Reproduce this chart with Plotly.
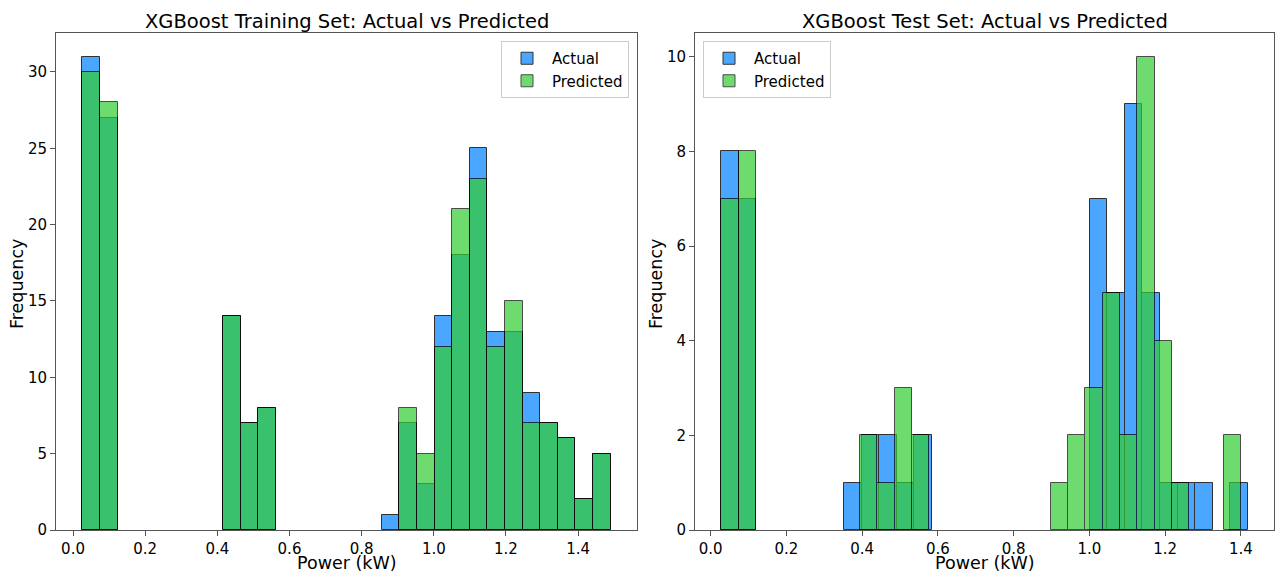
import numpy as np
import plotly.graph_objects as go

# ---------------- data ----------------
n_bins = 30
# Training set histogram (shared bin range)
train_range = (0.026, 1.490)
train_actual = [31, 27, 0, 0, 0, 0, 0, 0, 14, 7, 8, 0, 0, 0, 0, 0, 0, 1,
                7, 3, 14, 18, 25, 13, 13, 9, 7, 6, 2, 5]
train_pred = [30, 28, 0, 0, 0, 0, 0, 0, 14, 7, 8, 0, 0, 0, 0, 0, 0, 0,
              8, 5, 12, 21, 23, 12, 15, 7, 7, 6, 2, 5]
# Test set histograms (each series has its own bin range)
test_actual_range = (0.028, 1.418)
test_pred_range = (0.028, 1.401)
test_actual = [8, 7, 0, 0, 0, 0, 0, 1, 2, 2, 1, 2, 0, 0, 0, 0, 0, 0,
               0, 0, 0, 7, 5, 9, 5, 1, 1, 1, 0, 1]
test_pred = [7, 8, 0, 0, 0, 0, 0, 0, 2, 1, 3, 2, 0, 0, 0, 0, 0, 0,
             0, 1, 2, 3, 5, 2, 10, 4, 1, 0, 0, 2]

titles = ["XGBoost Training Set: Actual vs Predicted",
          "XGBoost Test Set: Actual vs Predicted"]
x_label = "Power (kW)"
y_label = "Frequency"
x_ticks = [0.0, 0.2, 0.4, 0.6, 0.8, 1.0, 1.2, 1.4]
train_y_ticks = [0, 5, 10, 15, 20, 25, 30]
test_y_ticks = [0, 2, 4, 6, 8, 10]

ACT_COLOR = "dodgerblue"
PRED_COLOR = "limegreen"
W, H = 1275, 572
FONT = "DejaVu Sans"


def bin_geometry(rng, n):
    edges = np.linspace(rng[0], rng[1], n + 1)
    centers = (edges[:-1] + edges[1:]) / 2
    widths = np.diff(edges)
    return centers, widths


fig = go.Figure()


def add_hist(rng, counts, name, color, alpha, xa, ya, legend):
    c, w = bin_geometry(rng, n_bins)
    counts = np.asarray(counts)
    keep = counts > 0  # empty bins are not drawn
    fig.add_trace(go.Bar(
        x=c[keep], y=counts[keep], width=w[keep], name=name,
        marker=dict(color=color, line=dict(color="black", width=1)),
        opacity=alpha, xaxis=xa, yaxis=ya, legend=legend,
        hoverinfo="x+y"))


add_hist(train_range, train_actual, "Actual", ACT_COLOR, 0.8, "x", "y", "legend")
add_hist(train_range, train_pred, "Predicted", PRED_COLOR, 0.7, "x", "y", "legend")
add_hist(test_actual_range, test_actual, "Actual", ACT_COLOR, 0.8, "x2", "y2", "legend2")
add_hist(test_pred_range, test_pred, "Predicted", PRED_COLOR, 0.7, "x2", "y2", "legend2")

# axes geometry (pixels)
ax1 = (56, 637)
ax2 = (695, 1274)
top_px, bot_px = 33, 530
ydom = [(H - bot_px) / H, (H - top_px) / H]


def xlim(rngs):
    lo = min(r[0] for r in rngs)
    hi = max(r[1] for r in rngs)
    m = 0.05 * (hi - lo)
    return [lo - m, hi + m]


axis_common = dict(
    showline=True, linecolor="#555", linewidth=1, mirror=True,
    ticks="outside", ticklen=5, tickcolor="#555", tickwidth=1,
    showgrid=False, zeroline=False, automargin=False,
    tickfont=dict(family=FONT, size=15, color="black"),
)
xt = dict(tickmode="array", tickvals=x_ticks, ticktext=[f"{v:.1f}" for v in x_ticks])

leg_common = dict(bgcolor="rgba(255,255,255,0.8)", bordercolor="#cccccc", borderwidth=1,
                  font=dict(family=FONT, size=15), tracegroupgap=0, itemwidth=40)


def text_ann(text, xpx, ypx, size, angle=0):
    return dict(text=text, x=xpx / W, y=(H - ypx) / H, xref="paper", yref="paper",
                xanchor="center", yanchor="middle", showarrow=False, textangle=angle,
                font=dict(family=FONT, size=size, color="black"))


annotations = []
for (a0, a1), title, ylab_x in [(ax1, titles[0], 17), (ax2, titles[1], 656)]:
    cx = (a0 + a1) / 2
    annotations.append(text_ann(title, cx, 22, 19.5))
    annotations.append(text_ann(x_label, cx, 563, 17.5))
    annotations.append(text_ann(y_label, ylab_x, 284, 17.5, angle=-90))

fig.update_layout(
    width=W, height=H,
    margin=dict(l=0, r=0, t=0, b=0),
    paper_bgcolor="white", plot_bgcolor="white",
    barmode="overlay", bargap=0,
    font=dict(family=FONT, color="black"),
    xaxis=dict(domain=[ax1[0] / W, ax1[1] / W], anchor="y",
               range=xlim([train_range]), **xt, **axis_common),
    yaxis=dict(domain=ydom, anchor="x",
               range=[0, max(max(train_actual), max(train_pred)) * 1.05],
               tickmode="array", tickvals=train_y_ticks, **axis_common),
    xaxis2=dict(domain=[ax2[0] / W, ax2[1] / W], anchor="y2",
                range=xlim([test_actual_range, test_pred_range]),
                **xt, **axis_common),
    yaxis2=dict(domain=ydom, anchor="x2",
                range=[0, max(max(test_actual), max(test_pred)) * 1.05],
                tickmode="array", tickvals=test_y_ticks, **axis_common),
    legend=dict(x=629 / W, y=(H - 41) / H, xanchor="right", yanchor="top", **leg_common),
    legend2=dict(x=703 / W, y=(H - 41) / H, xanchor="left", yanchor="top", **leg_common),
    annotations=annotations,
)

fig.write_html(
    "out.html",
    config={"displayModeBar": False},
    post_script="document.body.style.margin='0';document.body.style.overflow='hidden';",
)
